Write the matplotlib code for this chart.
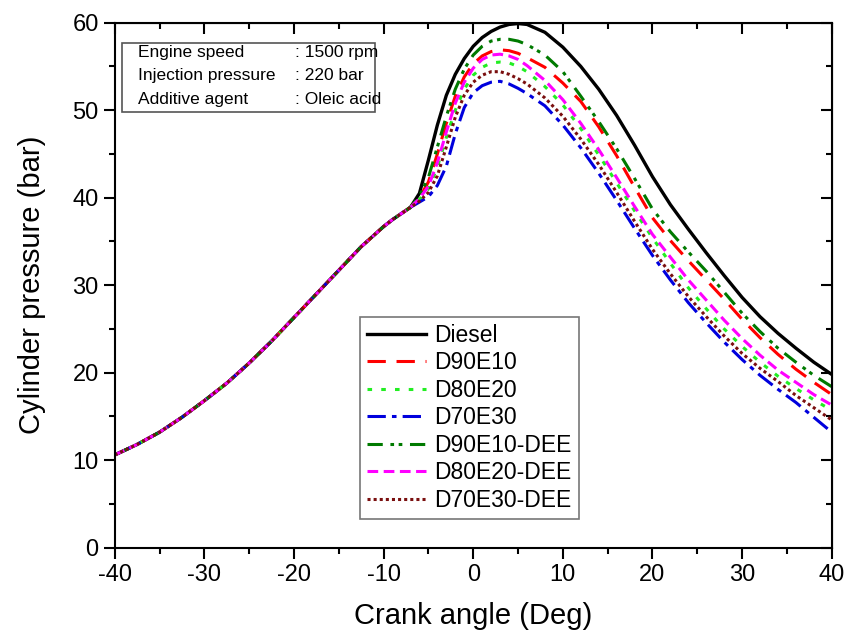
import matplotlib
matplotlib.use("Agg")
import matplotlib.pyplot as plt
from matplotlib.ticker import MultipleLocator
from matplotlib.patches import Rectangle

plt.rcParams['font.family'] = ['Liberation Sans', 'DejaVu Sans']
plt.rcParams['axes.unicode_minus'] = False

# crank angle where all curves are still identical (compression)
x_common = [-40, -37.5, -35, -32.5, -30, -27.5, -25, -22.5, -20, -17.5, -15,
            -12.5, -10, -9, -8, -7]
p_common = [10.6, 11.8, 13.2, 14.9, 16.8, 18.8, 21.1, 23.6, 26.3, 29.0, 31.7,
            34.4, 36.7, 37.5, 38.2, 38.9]

# crank angle after start of combustion
x_comb = [-6, -5, -4, -3, -2, -1, 0, 1, 2, 3, 4, 5, 6, 8, 10, 12, 14, 16, 18,
          20, 22, 24, 26, 28, 30, 32, 34, 36, 38, 40]

diesel = [40.5, 44.3, 48.3, 51.7, 54.1, 55.9, 57.3, 58.3, 59.0, 59.5, 59.8,
          59.9, 59.8, 58.9, 57.2, 55.0, 52.4, 49.4, 46.0, 42.4, 39.2, 36.4,
          33.7, 31.1, 28.6, 26.4, 24.5, 22.8, 21.2, 19.8]
d90e10 = [40.0, 41.8, 45.0, 48.5, 51.6, 53.8, 55.3, 56.2, 56.7, 56.9, 56.8,
          56.5, 56.0, 54.9, 53.1, 51.0, 48.1, 44.8, 41.2, 37.7, 35.1, 32.8,
          30.6, 28.4, 26.1, 24.0, 22.1, 20.4, 18.9, 17.5]
d80e20 = [39.8, 41.0, 43.5, 46.9, 50.0, 52.4, 54.0, 54.9, 55.4, 55.5, 55.4,
          55.0, 54.4, 52.7, 50.6, 47.9, 44.9, 41.7, 38.5, 35.4, 32.5, 29.7,
          27.3, 25.0, 23.0, 21.2, 19.6, 18.2, 16.9, 15.7]
d70e30 = [39.5, 40.1, 41.4, 43.6, 47.3, 50.3, 52.0, 52.8, 53.2, 53.3, 53.0,
          52.5, 51.9, 50.5, 48.3, 45.7, 42.8, 39.7, 36.5, 33.4, 30.6, 28.0,
          25.7, 23.5, 21.5, 19.7, 18.1, 16.6, 14.9, 13.2]
d90e10_dee = [40.2, 42.3, 45.8, 49.3, 52.4, 54.7, 56.3, 57.3, 57.9, 58.1, 58.1,
              57.9, 57.5, 56.3, 54.4, 51.6, 48.7, 45.6, 42.2, 38.7, 36.1, 33.8,
              31.6, 29.2, 26.8, 24.7, 22.8, 21.2, 19.7, 18.4]
d80e20_dee = [39.9, 41.3, 44.0, 47.5, 50.8, 53.2, 54.8, 55.8, 56.3, 56.4, 56.2,
              55.8, 55.1, 53.4, 51.2, 48.5, 45.5, 42.3, 39.0, 35.8, 33.2, 30.6,
              28.3, 26.0, 23.9, 22.0, 20.3, 18.9, 17.5, 16.3]
d70e30_dee = [39.6, 40.6, 42.5, 45.8, 49.2, 51.7, 53.2, 54.0, 54.4, 54.4, 54.1,
              53.6, 53.0, 51.4, 49.3, 46.7, 43.8, 40.6, 37.3, 34.1, 31.3, 28.7,
              26.4, 24.2, 22.2, 20.5, 19.0, 17.4, 16.0, 14.6]

labels = ['Diesel', 'D90E10', 'D80E20', 'D70E30',
          'D90E10-DEE', 'D80E20-DEE', 'D70E30-DEE']
series = [diesel, d90e10, d80e20, d70e30, d90e10_dee, d80e20_dee, d70e30_dee]
colors = ['black', '#ff0000', '#22ee22', '#0000dd', '#007a00', '#ff00ff', '#7a0f0f']
dashes = [None, (6, 3.5), (1.5, 3), (6, 2, 1.5, 2), (5, 2.5, 1.2, 1.5, 1.2, 2.5),
          (3.5, 1.8), (1, 1)]

fig = plt.figure(figsize=(8.47, 6.3), dpi=100)
ax = fig.add_axes([0.1354, 0.1306, 0.8466, 0.8334])

x_all = x_common + x_comb
for lab, vals, c, d in zip(labels, series, colors, dashes):
    y_all = p_common + vals
    if d is None:
        ax.plot(x_all, y_all, color=c, lw=2.4, label=lab)
    else:
        ax.plot(x_all, y_all, color=c, lw=2.2, dashes=d, label=lab)

ax.set_xlim(-40, 40)
ax.set_ylim(0, 60)
ax.xaxis.set_major_locator(MultipleLocator(10))
ax.xaxis.set_minor_locator(MultipleLocator(5))
ax.yaxis.set_major_locator(MultipleLocator(10))
ax.yaxis.set_minor_locator(MultipleLocator(5))
ax.tick_params(which='major', direction='out', length=8, width=1.5, labelsize=17)
ax.tick_params(which='minor', direction='out', length=4, width=1.5)
for s in ax.spines.values():
    s.set_linewidth(1.5)

# inward ticks on the top and right frame
top = ax.secondary_xaxis('top')
top.xaxis.set_major_locator(MultipleLocator(10))
top.xaxis.set_minor_locator(MultipleLocator(5))
top.tick_params(which='major', direction='in', length=8, width=1.5, labeltop=False)
top.tick_params(which='minor', direction='in', length=4, width=1.5)
right = ax.secondary_yaxis('right')
right.yaxis.set_major_locator(MultipleLocator(10))
right.yaxis.set_minor_locator(MultipleLocator(5))
right.tick_params(which='major', direction='in', length=8, width=1.5, labelright=False)
right.tick_params(which='minor', direction='in', length=4, width=1.5)

ax.set_xlabel('Crank angle (Deg)', fontsize=21, labelpad=12)
ax.set_ylabel('Cylinder pressure (bar)', fontsize=21, labelpad=19)

# info box
ax.add_patch(Rectangle((0.0102, 0.83), 0.353, 0.131, transform=ax.transAxes,
                       fill=False, edgecolor='#555555', lw=1.2))
info = [('Engine speed', ': 1500 rpm'),
        ('Injection pressure', ': 220 bar'),
        ('Additive agent', ': Oleic acid')]
for i, (k, v) in enumerate(info):
    yy = 0.944 - i * 0.045
    ax.text(0.0322, yy, k, transform=ax.transAxes, fontsize=12.5, va='center')
    ax.text(0.251, yy, v, transform=ax.transAxes, fontsize=12.5, va='center')

leg = ax.legend(loc='upper left', bbox_to_anchor=(0.342, 0.440), fontsize=16.5,
                frameon=True, fancybox=False, edgecolor='#555555',
                handlelength=2.6, handletextpad=0.35, labelspacing=0.2,
                borderpad=0.3, borderaxespad=0)
leg.get_frame().set_linewidth(1.2)

fig.savefig('out.png', dpi=100)
